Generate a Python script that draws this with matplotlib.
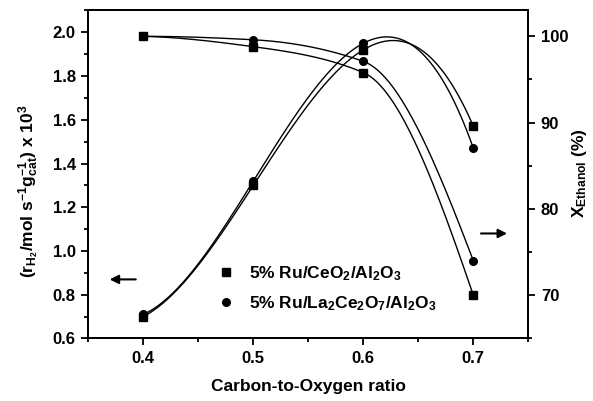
import numpy as np
import matplotlib
matplotlib.use('Agg')
import matplotlib.pyplot as plt
from matplotlib.ticker import MultipleLocator

plt.rcParams['font.family'] = ['Liberation Sans', 'DejaVu Sans']
plt.rcParams['font.weight'] = 'bold'
plt.rcParams['mathtext.fontset'] = 'custom'
plt.rcParams['mathtext.rm'] = 'Liberation Sans:bold'
plt.rcParams['mathtext.it'] = 'Liberation Sans:bold'
plt.rcParams['mathtext.bf'] = 'Liberation Sans:bold'
plt.rcParams['mathtext.default'] = 'rm'

# carbon-to-oxygen ratio
c_o = [0.4, 0.5, 0.6, 0.7]
# H2 production rate (x 10^3)
rh2_ceo2 = [0.70, 1.30, 1.92, 1.57]
rh2_la = [0.71, 1.32, 1.95, 1.47]
# ethanol conversion (%)
xeth_ceo2 = [100.0, 98.8, 95.8, 70.0]
xeth_la = [100.0, 99.6, 97.1, 74.0]

lab_ceo2 = '5% Ru/CeO$_2$/Al$_2$O$_3$'
lab_la = '5% Ru/La$_2$Ce$_2$O$_7$/Al$_2$O$_3$'


def smooth_cubic(x, y):
    # cubic through the 4 points, just for the drawn curve
    p = np.polyfit(x, y, 3)
    xs = np.linspace(min(x), max(x), 200)
    return xs, np.polyval(p, xs)


def smooth_pchip(x, y):
    # monotone cubic hermite curve through the points
    x = np.asarray(x, float)
    y = np.asarray(y, float)
    h = np.diff(x)
    d = np.diff(y) / h
    n = len(x)
    m = np.zeros(n)
    for k in range(1, n - 1):
        if d[k - 1] * d[k] > 0:
            w1 = 2 * h[k] + h[k - 1]
            w2 = h[k] + 2 * h[k - 1]
            m[k] = (w1 + w2) / (w1 / d[k - 1] + w2 / d[k])
    m[0] = ((2 * h[0] + h[1]) * d[0] - h[0] * d[1]) / (h[0] + h[1])
    if np.sign(m[0]) != np.sign(d[0]):
        m[0] = 0
    m[-1] = ((2 * h[-1] + h[-2]) * d[-1] - h[-1] * d[-2]) / (h[-1] + h[-2])
    if np.sign(m[-1]) != np.sign(d[-1]):
        m[-1] = 0
    xs = np.linspace(x[0], x[-1], 200)
    ys = np.empty_like(xs)
    for i, xv in enumerate(xs):
        k = min(np.searchsorted(x, xv, side='right') - 1, n - 2)
        t = (xv - x[k]) / h[k]
        h00 = 2 * t**3 - 3 * t**2 + 1
        h10 = t**3 - 2 * t**2 + t
        h01 = -2 * t**3 + 3 * t**2
        h11 = t**3 - t**2
        ys[i] = h00 * y[k] + h10 * h[k] * m[k] + h01 * y[k + 1] + h11 * h[k] * m[k + 1]
    return xs, ys


fig = plt.figure(figsize=(5.93, 4.01), dpi=100)
ax = fig.add_axes([0.149, 0.156, 0.742, 0.818])
ax2 = ax.twinx()

for y, m in [(rh2_ceo2, 's'), (rh2_la, 'o')]:
    xs, ys = smooth_cubic(c_o, y)
    ax.plot(xs, ys, color='black', lw=1.0)
    ax.plot(c_o, y, m, color='black', ms=5.5, ls='none')

for y, m in [(xeth_ceo2, 's'), (xeth_la, 'o')]:
    xs, ys = smooth_pchip(c_o, y)
    ax2.plot(xs, ys, color='black', lw=1.0)
    ax2.plot(c_o, y, m, color='black', ms=5.5, ls='none')

ax.set_xlim(0.35, 0.75)
ax.set_ylim(0.6, 2.1)
ax2.set_ylim(65, 103)

ax.xaxis.set_major_locator(MultipleLocator(0.1))
ax.xaxis.set_minor_locator(MultipleLocator(0.05))
ax.yaxis.set_major_locator(MultipleLocator(0.2))
ax.yaxis.set_minor_locator(MultipleLocator(0.1))
ax2.yaxis.set_major_locator(MultipleLocator(10))
ax2.yaxis.set_minor_locator(MultipleLocator(5))

for a in (ax, ax2):
    a.tick_params(which='major', direction='out', length=5, width=1.3, labelsize=12, pad=4)
    a.tick_params(which='minor', direction='out', length=3, width=1.3)
    for s in a.spines.values():
        s.set_linewidth(1.4)
ax.xaxis.set_ticks_position('bottom')

ax.set_xlabel('Carbon-to-Oxygen ratio', fontsize=12.5, fontweight='bold')
ax.xaxis.set_label_coords(0.5, -0.125)
ax.set_ylabel('(r$_{H_2}$/mol s$^{-1}$g$_{cat}^{-1}$) x 10$^3$', fontsize=12.5,
              fontweight='bold')
ax.yaxis.set_label_coords(-0.108, 0.45)
ax2.set_ylabel('X$_{Ethanol}$ (%)', fontsize=12.5, fontweight='bold')
ax2.yaxis.set_label_coords(1.095, 0.505)

# legend (markers only)
h1, = ax.plot([], [], 's', color='black', ms=5.5)
h2, = ax.plot([], [], 'o', color='black', ms=5.5)
ax.legend([h1, h2], [lab_ceo2, lab_la], loc='center left', bbox_to_anchor=(0.29, 0.152),
          frameon=False, fontsize=12.5, handletextpad=0.72, labelspacing=0.62,
          borderaxespad=0, borderpad=0, handlelength=1.2)

# arrows pointing to the axes
ax.annotate('', xy=(0.042, 0.18), xytext=(0.114, 0.18), xycoords='axes fraction',
            arrowprops=dict(arrowstyle='-|>', color='black', lw=1.5, mutation_scale=13))
ax.annotate('', xy=(0.958, 0.32), xytext=(0.886, 0.32), xycoords='axes fraction',
            arrowprops=dict(arrowstyle='-|>', color='black', lw=1.5, mutation_scale=13))

fig.savefig('out.png', dpi=100)
